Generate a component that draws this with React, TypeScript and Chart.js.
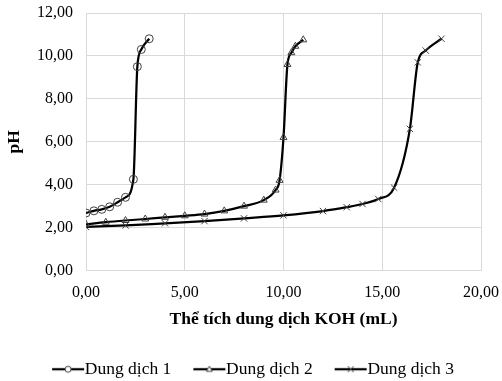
import React, { useEffect, useRef } from "react";
import { Chart, registerables } from "chart.js";

Chart.register(...registerables);

const seriesNames = ["Dung dịch 1", "Dung dịch 2", "Dung dịch 3"];

const vol1 = [0, 0.4, 0.8, 1.2, 1.6, 2.0, 2.4, 2.6, 2.8, 3.2];
const ph1 = [2.68, 2.78, 2.85, 2.97, 3.18, 3.41, 4.25, 9.5, 10.3, 10.8];

const vol2 = [0, 1, 2, 3, 4, 5, 6, 7, 8, 9, 9.6, 9.8, 10.0, 10.2, 10.4, 10.6, 11.0];
const ph2 = [2.15, 2.25, 2.33, 2.4, 2.48, 2.55, 2.63, 2.78, 3.0, 3.28, 3.75, 4.2, 6.2, 9.6, 10.15, 10.45, 10.75];

const vol3 = [0, 2, 4, 6, 8, 10, 12, 13.2, 14, 14.8, 15.6, 16.4, 16.8, 17.2, 18];
const ph3 = [2.03, 2.1, 2.2, 2.3, 2.43, 2.57, 2.77, 2.95, 3.1, 3.33, 3.86, 6.6, 9.7, 10.25, 10.8];

const pointStyles = ["circle", "triangle", "crossRot"] as const;

const FONT = "'Liberation Serif', 'Times New Roman', serif";
const fmt = (v: number) => v.toFixed(2).replace(".", ",");

function legendIcon(style: string, bw: number, hf: number): HTMLCanvasElement {
  const c = document.createElement("canvas");
  const w = bw + 2 * hf;
  const h = 14;
  c.width = w;
  c.height = h;
  const ctx = c.getContext("2d")!;
  const x0 = hf;
  const x1 = bw + 2 * hf - 1;
  const cy = h / 2;
  ctx.strokeStyle = "#000";
  ctx.lineWidth = 2.25;
  ctx.beginPath();
  ctx.moveTo(x0, cy);
  ctx.lineTo(x1, cy);
  ctx.stroke();
  const cx = (x0 + x1) / 2;
  ctx.lineWidth = 1;
  ctx.strokeStyle = "#404040";
  ctx.fillStyle = "#fff";
  const r = 3;
  ctx.beginPath();
  if (style === "circle") {
    ctx.arc(cx, cy, r, 0, Math.PI * 2);
    ctx.fill();
    ctx.stroke();
  } else if (style === "triangle") {
    ctx.moveTo(cx, cy - r);
    ctx.lineTo(cx + r, cy + r * 0.7);
    ctx.lineTo(cx - r, cy + r * 0.7);
    ctx.closePath();
    ctx.fill();
    ctx.stroke();
  } else {
    ctx.moveTo(cx - r, cy - r);
    ctx.lineTo(cx + r, cy + r);
    ctx.moveTo(cx + r, cy - r);
    ctx.lineTo(cx - r, cy + r);
    ctx.stroke();
  }
  return c;
}

export default function App() {
  const ref = useRef<HTMLCanvasElement | null>(null);
  useEffect(() => {
    if (!ref.current) return;
    const vols = [vol1, vol2, vol3];
    const phs = [ph1, ph2, ph3];
    const BW = 24;
    const HF = 9;
    const icons = pointStyles.map((s) => legendIcon(s, BW, HF));
    const chart = new Chart(ref.current, {
      type: "line",
      data: {
        datasets: seriesNames.map((name, i) => ({
          label: name,
          data: vols[i].map((v, j) => ({ x: v, y: phs[i][j] })),
          borderColor: "#000",
          borderWidth: 2.25,
          cubicInterpolationMode: "monotone" as const,
          pointStyle: pointStyles[i],
          pointRadius: i === 2 ? 4.5 : 4,
          pointBorderColor: "#404040",
          pointBackgroundColor: "rgba(255,255,255,0)",
          pointBorderWidth: 1,
          fill: false,
        })),
      },
      options: {
        animation: false,
        responsive: false,
        layout: { padding: { left: 4, right: 0, top: 13, bottom: -7 } },
        scales: {
          x: {
            type: "linear",
            min: 0,
            max: 20,
            ticks: {
              stepSize: 5,
              padding: 13,
              color: "#000",
              font: { family: FONT, size: 16 },
              callback: (v: any) => fmt(Number(v)),
            },
            grid: { color: "#d9d9d9", drawTicks: false },
            border: { color: "#d9d9d9" },
            title: {
              display: true,
              text: "Thể tích dung dịch KOH (mL)",
              color: "#000",
              font: { family: FONT, size: 17.5, weight: "bold" },
              padding: { top: 2, bottom: 9 },
            },
            afterFit: (s: any) => {
              s.height = 68;
              s.paddingLeft = 0;
              s.paddingRight = 21;
            },
          },
          y: {
            min: 0,
            max: 12,
            ticks: {
              stepSize: 2,
              padding: 13,
              color: "#000",
              font: { family: FONT, size: 16 },
              callback: (v: any) => fmt(Number(v)),
            },
            grid: { color: "#d9d9d9", drawTicks: false },
            border: { color: "#d9d9d9" },
            title: {
              display: true,
              text: "pH",
              color: "#000",
              font: { family: FONT, size: 17.5, weight: "bold" },
              padding: { top: 0, bottom: 0 },
            },
            afterFit: (s: any) => {
              s.width = 82;
              s.paddingTop = 0;
              s.paddingBottom = 0;
            },
          },
        },
        plugins: {
          tooltip: { enabled: false },
          legend: {
            position: "bottom",
            labels: {
              usePointStyle: true,
              pointStyleWidth: BW,
              padding: 22,
              color: "#000",
              font: { family: FONT, size: 17.5 },
              generateLabels: (c: any) =>
                c.data.datasets.map((d: any, i: number) => ({
                  text: d.label,
                  pointStyle: icons[i],
                  fillStyle: "transparent",
                  strokeStyle: "transparent",
                  lineWidth: 0,
                  fontColor: "#000",
                  datasetIndex: i,
                  hidden: false,
                })),
            },
          },
        },
      },
    });
    return () => chart.destroy();
  }, []);
  return (
    <div style={{ position: "fixed", left: 0, top: 0, width: 502, height: 381, background: "#fff" }}>
      <canvas ref={ref} width={502} height={381} style={{ width: 502, height: 381 }} />
    </div>
  );
}
